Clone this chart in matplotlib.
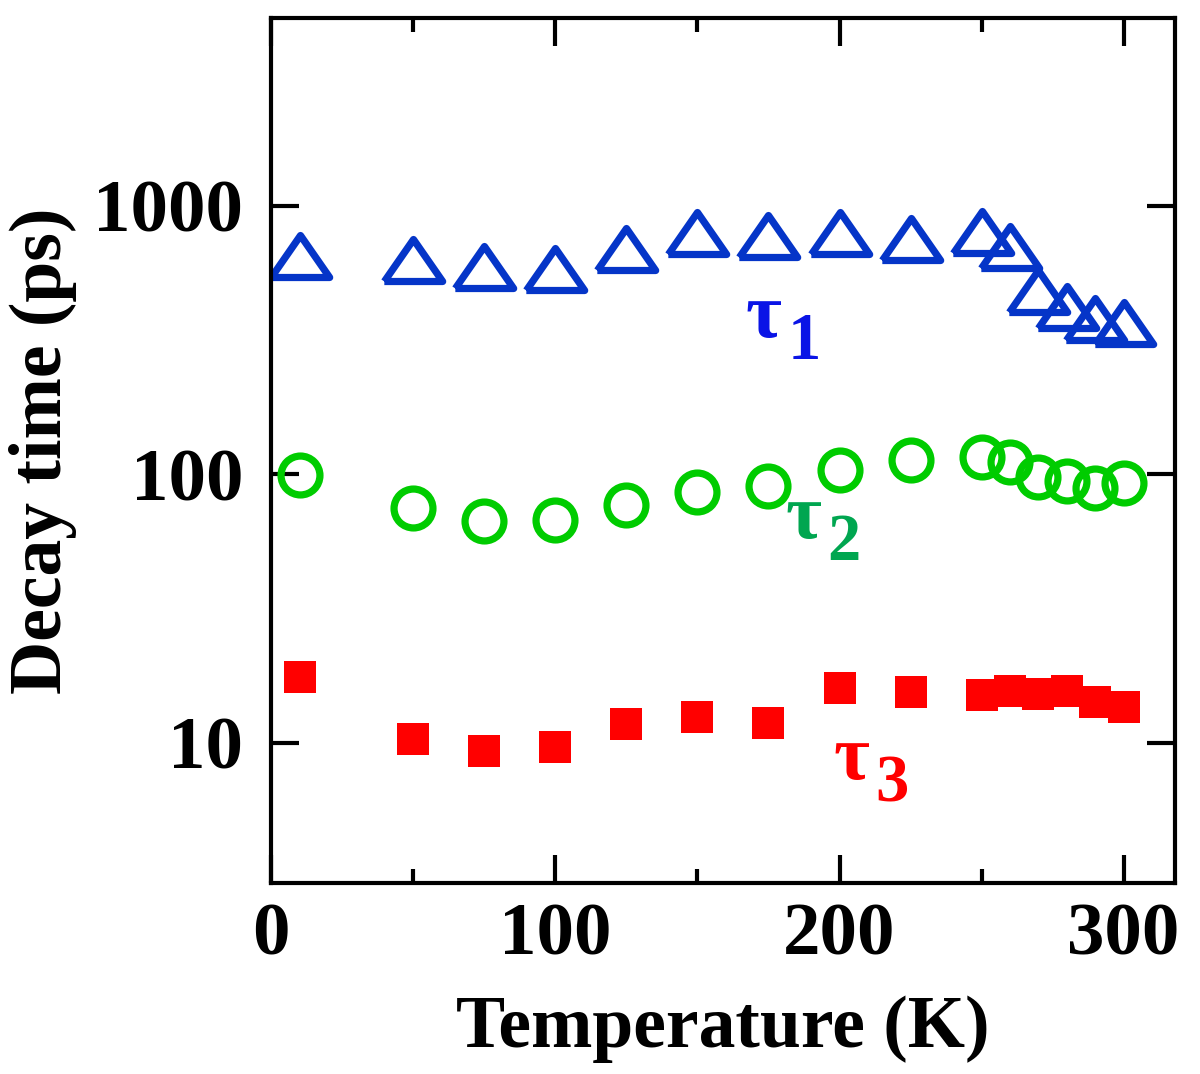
import numpy as np
import matplotlib
matplotlib.use("Agg")
import matplotlib.pyplot as plt
from matplotlib.ticker import FixedLocator, MultipleLocator, NullLocator

# temperatures (K)
temp = [10, 50, 75, 100, 125, 150, 175, 200, 225, 250, 260, 270, 280, 290, 300]
# decay times (ps)
tau1 = [650, 630, 590, 580, 690, 790, 775, 790, 750, 800, 700, 480, 420, 380, 365]
tau2 = [99, 75, 67, 67.5, 76.5, 86, 90, 104, 113, 116, 111, 97.5, 94, 89, 92.5]
tau3 = [17.6, 10.3, 9.3, 9.6, 11.7, 12.4, 11.8, 16.0, 15.4, 15.0, 15.6, 15.2, 15.5, 14.1, 13.6]

plt.rcParams['font.family'] = ['Liberation Serif', 'DejaVu Serif']
plt.rcParams['font.weight'] = 'bold'

fig = plt.figure(figsize=(12, 10.74), dpi=100)
ax = fig.add_axes([0.226, 0.178, 0.753, 0.805])

# flattened triangle
tri = [(-1, -0.72), (1, -0.72), (0, 0.72), (-1, -0.72)]
ax.plot(temp, tau1, linestyle='none', marker=tri, markersize=42,
        markerfacecolor='none', markeredgecolor='#0535c8', markeredgewidth=5.2)
ax.plot(temp, tau2, linestyle='none', marker='o', markersize=28,
        markerfacecolor='none', markeredgecolor='#00cc00', markeredgewidth=5.2)
ax.plot(temp, tau3, linestyle='none', marker='s', markersize=23,
        color='#ff0000', markeredgewidth=0)

ax.set_yscale('log')
ax.set_xlim(0, 318)
ax.set_ylim(3, 5000)

ax.xaxis.set_major_locator(FixedLocator([0, 100, 200, 300]))
ax.xaxis.set_minor_locator(FixedLocator([50, 150, 250]))
ax.yaxis.set_major_locator(FixedLocator([10, 100, 1000]))
ax.yaxis.set_minor_locator(NullLocator())
ax.set_yticklabels(['10', '100', '1000'])

ax.tick_params(which='both', direction='in', top=True, right=True, width=3)
ax.tick_params(which='major', length=20)
ax.tick_params(which='minor', length=10)
ax.tick_params(axis='x', labelsize=54, pad=14)
ax.tick_params(axis='y', labelsize=54, pad=20)
for lab in ax.get_xticklabels() + ax.get_yticklabels():
    lab.set_fontweight('bold')

for sp in ax.spines.values():
    sp.set_linewidth(3)

ax.set_xlabel('Temperature (K)', fontsize=53, fontweight='bold', labelpad=18)
ax.set_ylabel('Decay time (ps)', fontsize=53, fontweight='bold', labelpad=12)

# series labels
def tau_label(x, y, sub, color):
    ax.text(x, y, 'τ', fontsize=56, color=color, fontweight='bold',
            ha='left', va='baseline')
    ax.annotate(sub, (x, y), xytext=(30, -16), textcoords='offset points',
                fontsize=48, color=color, fontweight='bold', va='baseline')

tau_label(167, 325, '1', '#0a14e6')
tau_label(181, 58, '2', '#00a650')
tau_label(198, 7.3, '3', '#ff0000')

fig.savefig('out.png', dpi=100)
